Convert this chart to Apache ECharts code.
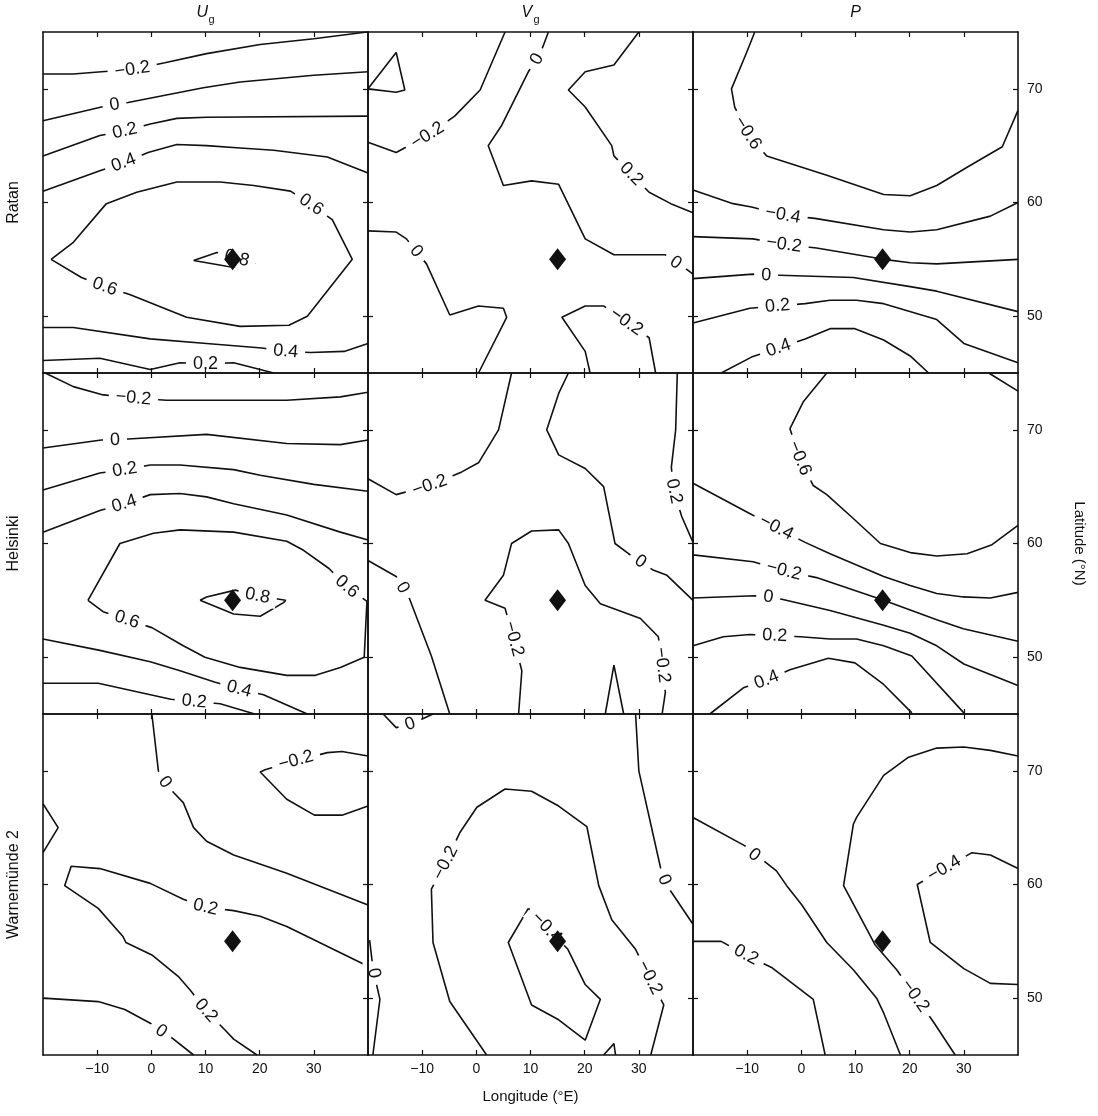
<!DOCTYPE html>
<html>
<head>
<meta charset="utf-8">
<script src="https://cdn.jsdelivr.net/npm/echarts@6.0.0/dist/echarts.min.js"></script>
<style>
  html, body { margin: 0; padding: 0; background: #fff; }
  #chart { width: 1098px; height: 1116px; }
</style>
</head>
<body>
<div id="chart"></div>
<script>
// Axis ticks
const lonTicks = [-10, 0, 10, 20, 30];
const latTicks = [50, 60, 70];

// Row and column headings
const stations = ['Ratan', 'Helsinki', 'Warnemünde 2'];
const quantities = [['U', 'g'], ['V', 'g'], ['P', '']];

// Station location (lon °E, lat °N)
const site = [15, 55];

// Contour lines: v = level, p = [lon, lat] vertices; a third entry 'L' marks the label spot
const ratanUg = [
  { v: -0.2, p: [[-20,71.3],[-14.4,71.3],[-9.2,71.5],[-3.5,71.7,'L'],[2.5,72.3],[10.2,73.1],[20.1,73.9],[30,74.4],[39.8,75]] },
  { v: 0,    p: [[-20,67.2],[-9.2,68.4],[-6.8,68.6,'L'],[-4.3,68.8],[9.6,70.1],[16.4,70.6],[30,71.2],[40,71.5]] },
  { v: 0.2,  p: [[-20,64.1],[-9.5,65.9],[-4.9,66.3,'L'],[-0.2,66.9],[4.7,67.4],[10.2,67.5],[40,67.6]] },
  { v: 0.4,  p: [[-20,61],[-9.5,62.8],[-5.1,63.5,'L'],[-0.6,64.4],[4.7,65.1],[10.2,65],[16.4,64.8],[22.6,64.6],[32.5,64],[40,62.6]] },
  { v: 0.6,  p: [[-18.5,55],[-12.9,53.4],[-8.6,52.6,'L'],[-4,51.9],[6.5,49.9],[16.4,49.1],[25.4,49.2],[28.8,50],[37.1,55],[33.4,58.5],[29.5,59.8,'L'],[25.7,61],[18.9,61.5],[12.7,61.8],[4.7,61.8],[-2.7,60.9],[-8.3,59.9],[-14.4,56.5],[-18.5,55]] },
  { v: 0.8,  p: [[7.8,54.9],[12.1,55.6],[15.8,55.1,'L'],[19.3,54.7],[15,54.3],[7.8,54.9]] },
  { v: 0.4,  p: [[-20,49],[-14.4,49],[-0.2,48],[10.2,47.6],[20.4,47.2],[24.8,46.9,'L'],[29.4,46.8],[35.6,46.9],[40,47.6]] },
  { v: 0.2,  p: [[-20,46.1],[-9.5,46.3],[-0.2,45.3],[5.3,45.9],[10,45.8,'L'],[15.2,45.9],[22.6,45]] }
];

const ratanVg = [
  { v: -0.4, p: [[-20,70],[-14.8,73.2],[-13.2,69.9],[-14.8,69.7],[-20,70]] },
  { v: -0.2, p: [[-20,65.3],[-14.8,64.4],[-9,65.9,'L'],[-4,67.6],[0.7,69.9],[5.3,75]] },
  { v: 0,    p: [[13.3,75],[12.2,73.6],[11.2,72.6,'L'],[9.6,71.5],[4.7,66.8],[2.2,65],[5,61.5],[10.2,61.9],[15.2,61.6],[20.1,56.8],[25.4,55.4],[34.9,55.4],[36.8,54.7,'L'],[38.9,54.1],[40,53.7]] },
  { v: 0,    p: [[-20,57.5],[-14.8,57.4],[-12.9,56.8],[-11.1,55.7,'L'],[-9.2,54.6],[-4.9,50.1],[0.4,50.9],[5,50.7],[5.6,49.9],[0.4,45]] },
  { v: 0.2,  p: [[30,75],[25.4,72.1],[20.1,71.5],[17,69.9],[20.1,68.4],[25,65],[25.4,64.1],[28.6,62.5,'L'],[31.9,60.9],[35.9,59.9],[40,59.1]] },
  { v: -0.2, p: [[21,45],[20.1,46.9],[15.8,49.9],[20.1,50.9],[23.5,50.9],[27.7,49.5,'L'],[31.9,48.1],[33.1,45]] }
];

const ratanP = [
  { v: -0.6, p: [[-8.6,75],[-10.1,73.2],[-12.9,70],[-12.3,68.4],[-9.9,66.1,'L'],[-6.4,64.1],[4.7,62.4],[15.2,60.7],[20.1,60.6],[25,61.5],[30.6,63.1],[37.1,64.9],[40,68.1]] },
  { v: -0.4, p: [[-20,61.1],[-12.6,59.9],[-9.2,59.6],[-3.4,58.9,'L'],[2.5,58.6],[15.2,57.6],[20.1,57.4],[25,57.6],[34.9,58.8],[40,60]] },
  { v: -0.2, p: [[-20,57],[-8.9,56.8],[-3.2,56.3,'L'],[2.8,56],[15.2,55],[20.1,54.7],[25,54.6],[40,55]] },
  { v: 0,    p: [[-20,53.3],[-8.9,53.7],[-6.5,53.6,'L'],[-4,53.6],[9.6,53.4],[20.1,52.6],[25,52.2],[40,50.4]] },
  { v: 0.2,  p: [[-20,49.4],[-9.5,50.7],[-4.4,50.9,'L'],[0.7,51.1],[5.3,51.4],[10.2,51.4],[15.2,51.1],[25,49.7],[30,47.6],[40,45.9]] },
  { v: 0.4,  p: [[-14.8,45],[-9.2,46.4],[-4.2,47.2,'L'],[0.7,48],[5.3,48.9],[9.9,48.9],[15.2,47.9],[20.1,46.5],[23.5,45]] }
];

const helsinkiUg = [
  { v: -0.2, p: [[-19.6,75],[-14.4,73.8],[-9.2,73.1],[-3.3,72.8,'L'],[2.8,72.6],[10.2,72.6],[25,72.6],[34.9,72.9],[40,73.3]] },
  { v: 0,    p: [[-20,68.4],[-9.2,69.1],[-6.7,69.1,'L'],[-4.3,69.2],[10.2,69.6],[25,68.8],[34.9,68.7],[40,69.1]] },
  { v: 0.2,  p: [[-20,64.7],[-9.5,66.2],[-4.9,66.5,'L'],[-0.2,66.9],[5.3,66.9],[15.2,66.5],[20.1,66],[30,65.2],[40,64.6]] },
  { v: 0.4,  p: [[-20,61],[-9.5,62.9],[-5,63.5,'L'],[-0.2,64.3],[5.3,64.4],[10.2,64.1],[15.2,63.5],[25,62.5],[34.9,61],[40,60.3]] },
  { v: 0.6,  p: [[-11.7,55],[-8.9,54],[-4.5,53.3,'L'],[0.1,52.6],[5.9,51],[9.9,50],[16.4,49.1],[25,48.4],[30.3,48.4],[34.9,49.1],[39.3,50],[39.8,54.9],[36.1,56.2,'L'],[32.8,57.8],[28.1,59.4],[25,60.2],[15.2,61],[5.3,61.2],[0.4,60.9],[-5.8,60],[-11.7,55]] },
  { v: 0.8,  p: [[9,55],[10.2,55.3],[15.5,55.9],[19.6,55.4,'L'],[24.8,55],[24.4,54.8],[20.1,53.6],[15.2,53.8],[9,55]] },
  { v: 0.4,  p: [[-20,51.6],[-9.5,50.6],[-0.2,49.6],[5.3,48.8],[11.8,47.8],[16.2,47.2,'L'],[20.7,46.7],[28.8,45]] },
  { v: 0.2,  p: [[-20,47.7],[-9.8,47.7],[3.6,46.3],[7.9,46.1,'L'],[12.7,45.9],[19.1,45]] }
];

const helsinkiVg = [
  { v: -0.2, p: [[-20,65.7],[-14.8,64.3],[-8.6,65.1,'L'],[-2.7,66.3],[0.4,67.1],[4.1,70],[6.5,75]] },
  { v: 0,    p: [[17,75],[15.2,73.2],[13,70],[15.2,67.8],[20.1,66.6],[23.5,65],[25.6,60],[28.1,59.1],[30.3,58.4,'L'],[32.5,57.7],[35.2,57.2],[40,55]] },
  { v: 0.2,  p: [[37.1,75],[36.8,70],[36,66.7],[36.5,64.6,'L'],[37.9,62.4],[40,60.1]] },
  { v: 0,    p: [[-20,58.5],[-14.8,57.1],[-13.6,56.1,'L'],[-12.3,55.1],[-8.3,50.1],[-4.9,45]] },
  { v: -0.2, p: [[7.8,45],[8.4,48.8],[6.9,51.6,'L'],[5.3,54.3],[1.6,55],[5,57.2],[6.5,60],[10.2,61.1],[15.2,61.2],[17,60],[20.1,56.3],[22.9,54.7],[30.3,53.4],[33.6,51.8],[34.3,49.3,'L'],[34.9,46.9],[34.3,45]] },
  { v: -0.4, p: [[23.8,45],[25.4,49.3],[27.2,45]] }
];

const helsinkiP = [
  { v: -0.6, p: [[4.7,75],[0.4,72.5],[-2.1,70.1],[-0.3,67.5,'L'],[2.2,65.1],[4.7,64.3],[9.6,62.2],[14.6,60],[20.1,59.2],[25,58.9],[30.6,59.1],[35.2,59.9],[40,61.6]] },
  { v: -0.8, p: [[34.6,75],[40,73.4]] },
  { v: -0.4, p: [[-20,65.3],[-9.8,62.7],[-4.6,61.4,'L'],[0.7,60.1],[5.3,59.1],[10.2,58.1],[15.2,57.1],[20.1,56.3],[25,55.6],[29.9,55.3],[34.9,55.2],[40,55.7]] },
  { v: -0.2, p: [[-20,59],[-8.9,58.4],[-3.2,57.6,'L'],[2.8,57],[15.2,55],[25,53.3],[29.9,52.5],[40,51.4]] },
  { v: 0,    p: [[-20,55.2],[-8.6,55.4],[-6.1,55.3,'L'],[-3.6,55.1],[5.3,54.1],[15.2,52.8],[20.1,52.1],[25,51],[30,49.4],[40,47.5]] },
  { v: 0.2,  p: [[-20,51],[-14.4,51.8],[-9.5,52],[-4.9,51.9,'L'],[-0.2,51.8],[5.3,51.6],[10.2,51.6],[15.2,51],[20.4,50.1],[30,45.1]] },
  { v: 0.4,  p: [[-16.9,45],[-10.7,47.3],[-6.4,48,'L'],[-2.1,48.9],[5,49.9],[9.9,49.5],[15.2,47.6],[20.4,45.1]] }
];

const warnemundeUg = [
  { v: 0,    p: [[0.1,75],[1.3,70],[2.5,69,'L'],[4.1,68.1],[5.9,67.2],[7.8,65],[10.2,63.8],[15.2,62.6],[25,61],[40,58.2]] },
  { v: -0.2, p: [[40,66.9],[35.2,66.1],[30.1,66.1],[25,67.5],[20.1,69.9],[21,70.1],[26.7,70.9,'L'],[32.5,71.6],[35.2,71.7],[40,71.3]] },
  { v: 0.2,  p: [[-20,67.1],[-17.2,65],[-20,62.8]] },
  { v: 0.2,  p: [[40,52.8],[25,56.3],[20.1,57.2],[15.2,57.7],[10,58,'L'],[5.9,58.7],[-0.2,60.1],[-9.5,61.4],[-14.8,61.6],[-16,59.9],[-9.8,57.9],[-5.2,55.4],[-4.7,54.9],[0.1,53.8],[5,51.9],[7.2,50.7],[10.1,48.9,'L'],[13.6,47.2],[15.2,46.4],[19.5,45]] },
  { v: 0,    p: [[-20,50],[-9.8,49.7],[-4.9,49],[-0.2,47.8],[1.8,47.1,'L'],[3.8,46.5],[7.8,45]] }
];

const warnemundeVg = [
  { v: 0,    p: [[-17.2,75],[-14.8,73.8],[-12.2,74.1,'L'],[-9.8,74.6],[-8,75]] },
  { v: 0,    p: [[-19.7,55.1],[-19.3,53.5],[-18.9,52.2,'L'],[-17.8,49.9],[-19.1,45]] },
  { v: -0.2, p: [[1.9,45],[-4.9,49.7],[-8,54.9],[-8.3,59.6],[-5.7,61.9,'L'],[-3,64.6],[0.1,66.8],[5.3,68.4],[10.2,68.2],[15.2,66.9],[20.4,65.1],[22.6,59.9],[25,56.9],[29.4,54.3],[32,51.8,'L'],[34.6,49.4],[32.2,45]] },
  { v: -0.4, p: [[9.6,57.9],[13,56.2,'L'],[16.9,54.3],[20.1,51.2],[22.9,49.9],[20.1,46.3],[15.2,48.1],[10.2,49.4],[5.9,54.9],[9.6,57.9]] },
  { v: 0,    p: [[29.4,75],[30,70],[34,61.5],[34.7,60.4,'L'],[35.9,59.4],[40,56.5]] },
  { v: -0.4, p: [[23.5,45],[25.4,46],[25.7,45]] }
];

const warnemundeP = [
  { v: 0,    p: [[-20,65.9],[-10.4,63.4],[-8.7,62.6,'L'],[-6.7,62],[-4.6,61.2],[-2.7,59.9],[0.1,58.2],[4.7,54.9],[9.6,52.5],[13.9,50],[15.2,48.7],[18.3,45]] },
  { v: -0.2, p: [[40,71.3],[34.9,71.8],[30,72.1],[25,72],[19.8,71.2],[15.2,69.6],[10.2,65.9],[9.6,65.3],[7.8,59.9],[13.6,54.7],[17.6,52.5],[21,50.2,'L'],[24.4,47.9],[28.4,45]] },
  { v: -0.4, p: [[40,51.2],[34.9,51.3],[30,52.6],[23.8,54.9],[21.4,60],[26.4,61.4,'L'],[31.5,62.8],[34.9,62.6],[40,61.4]] },
  { v: 0.2,  p: [[-20,55],[-14.8,55],[-10.2,53.8,'L'],[-5.5,52.7],[2.2,49.9],[4.4,45]] }
];

const panels = [
  [ratanUg, ratanVg, ratanP],
  [helsinkiUg, helsinkiVg, helsinkiP],
  [warnemundeUg, warnemundeVg, warnemundeP]
];

// ---- layout & style ----
const FONT = '"Liberation Sans", Arial, Helvetica, sans-serif';
const INK = '#111111';
const LEFT = 43, TOP = 32, PW = 325, PH = 341;
const fmt = v => (v < 0 ? '\u2212' + Math.abs(v) : String(v));

const chart = echarts.init(document.getElementById('chart'), null, { renderer: 'canvas' });

const grids = [], xAxes = [], yAxes = [], series = [];

function axis(gridIndex, min, max, position, ticks, showLabels, margin) {
  return {
    type: 'value', gridIndex, min, max, position, z: 10,
    splitLine: { show: false },
    axisLine: { show: true, onZero: false, lineStyle: { color: INK, width: 1.6 } },
    axisTick: { show: true, inside: true, length: 5, customValues: ticks, lineStyle: { color: INK, width: 1.2 } },
    axisLabel: { show: showLabels, customValues: ticks, formatter: fmt, color: INK, fontSize: 14, fontFamily: FONT, margin }
  };
}

panels.forEach((row, r) => row.forEach((lines, c) => {
  const g = r * 3 + c;
  grids.push({ left: LEFT + c * PW, top: TOP + r * PH, width: PW, height: PH });
  xAxes.push(axis(g, -20, 40, 'bottom', lonTicks, r === 2, 7));
  xAxes.push(axis(g, -20, 40, 'top', lonTicks, false, 7));
  yAxes.push(axis(g, 45, 75, 'left', latTicks, false, 8));
  yAxes.push(axis(g, 45, 75, 'right', latTicks, c === 2, 9));
  lines.forEach(ln => {
    series.push({
      type: 'line', xAxisIndex: 2 * g, yAxisIndex: 2 * g,
      data: ln.p.map(q => [q[0], q[1]]),
      showSymbol: false, symbol: 'none', silent: true, z: 2,
      lineStyle: { color: INK, width: 1.6 }
    });
  });
  series.push({
    type: 'scatter', xAxisIndex: 2 * g, yAxisIndex: 2 * g, silent: true, z: 5,
    symbol: 'diamond', symbolSize: [17, 22], itemStyle: { color: INK, opacity: 1 },
    data: [site]
  });
}));

const graphic = [];
quantities.forEach((q, c) => {
  const cx = LEFT + c * PW + PW / 2;
  if (q[1]) {
    graphic.push({ type: 'text', x: cx - 9, y: 13, style: { text: q[0], fontSize: 16, fontStyle: 'italic', fontFamily: FONT, fill: INK, align: 'left', verticalAlign: 'middle' } });
    graphic.push({ type: 'text', x: cx + 3, y: 20, style: { text: q[1], fontSize: 11, fontFamily: FONT, fill: INK, align: 'left', verticalAlign: 'middle' } });
  } else {
    graphic.push({ type: 'text', x: cx, y: 13, style: { text: q[0], fontSize: 16, fontStyle: 'italic', fontFamily: FONT, fill: INK, align: 'center', verticalAlign: 'middle' } });
  }
});
stations.forEach((s, r) => {
  graphic.push({ type: 'text', x: 14, y: TOP + r * PH + PH / 2, rotation: Math.PI / 2,
    style: { text: s, fontSize: 16, fontFamily: FONT, fill: INK, align: 'center', verticalAlign: 'middle' } });
});
graphic.push({ type: 'text', x: LEFT + 1.5 * PW, y: 1097,
  style: { text: 'Longitude (°E)', fontSize: 15, fontFamily: FONT, fill: INK, align: 'center', verticalAlign: 'middle' } });
graphic.push({ type: 'text', x: 1079, y: TOP + 1.5 * PH, rotation: -Math.PI / 2,
  style: { text: 'Latitude (°N)', fontSize: 15, fontFamily: FONT, fill: INK, align: 'center', verticalAlign: 'middle' } });

chart.setOption({
  animation: false,
  backgroundColor: '#fff',
  grid: grids, xAxis: xAxes, yAxis: yAxes, series, graphic
});

// Inline contour labels: rotated along the local line direction, white box breaks the line
const labelSeries = [];
panels.forEach((row, r) => row.forEach((lines, c) => {
  const g = r * 3 + c;
  const data = [];
  lines.forEach(ln => ln.p.forEach((q, i) => {
    if (q[2] !== 'L') return;
    const a = chart.convertToPixel({ gridIndex: g }, ln.p[Math.max(0, i - 1)].slice(0, 2));
    const b = chart.convertToPixel({ gridIndex: g }, ln.p[Math.min(ln.p.length - 1, i + 1)].slice(0, 2));
    let ang = Math.atan2(-(b[1] - a[1]), b[0] - a[0]) * 180 / Math.PI;
    if (ang > 90) ang -= 180;
    if (ang < -90) ang += 180;
    data.push({ value: [q[0], q[1]], name: fmt(ln.v), label: { rotate: ang } });
  }));
  labelSeries.push({
    type: 'scatter', xAxisIndex: 2 * g, yAxisIndex: 2 * g, silent: true, z: 3,
    symbolSize: 1, itemStyle: { color: 'rgba(0,0,0,0)', opacity: 1 },
    label: {
      show: true, position: 'inside', formatter: p => p.name,
      fontSize: 18, fontFamily: FONT, color: INK, opacity: 1,
      backgroundColor: '#fff', padding: [0, 7], lineHeight: 19
    },
    data
  });
}));

chart.setOption({ series: series.concat(labelSeries) });
</script>
</body>
</html>
